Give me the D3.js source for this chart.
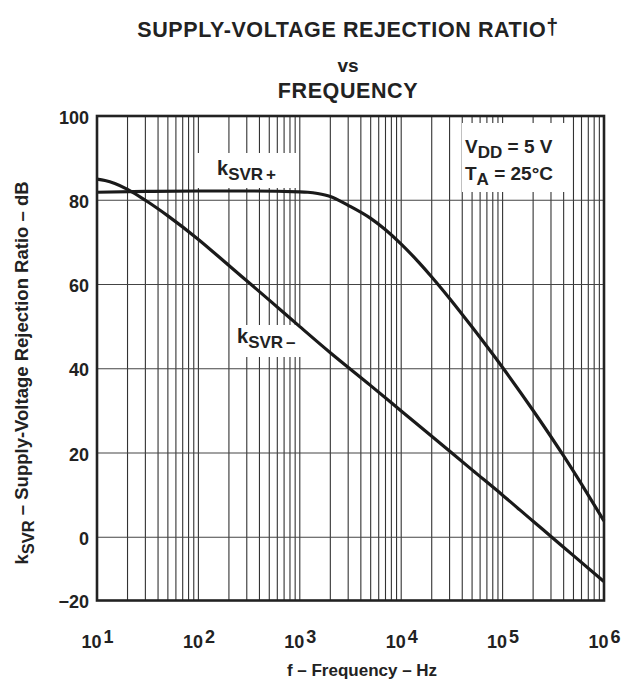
<!DOCTYPE html>
<html>
<head>
<meta charset="utf-8">
<script src="https://cdn.jsdelivr.net/npm/d3@7"></script>
<style>
  body { margin: 0; background: #fff; }
  text { font-family: "Liberation Sans", Arial, sans-serif; font-weight: bold; fill: #222; }
</style>
</head>
<body>
<div id="chart"></div>
<script>
// 軸の目盛り
const freqTicks = [1e1, 1e2, 1e3, 1e4, 1e5, 1e6];
const dbTicks = [-20, 0, 20, 40, 60, 80, 100];

// kSVR+ の曲線
const plusFreq = [10, 30, 100, 300, 1000, 1200, 1500, 2000, 3000, 5000, 7000, 1e4, 1.5e4, 2e4, 3e4, 5e4, 1e5, 2e5, 4e5, 6e5, 1e6];
const plusDb   = [81.9, 82.1, 82.2, 82.2, 82.0, 81.9, 81.6, 80.9, 78.8, 75.7, 73.0, 69.6, 65.2, 61.8, 56.7, 49.9, 40.3, 30.1, 19.3, 12.6, 3.9];

// kSVR- の曲線
const minusFreq = [10, 12, 15, 20, 30, 50, 100, 200, 500, 1000, 2000, 5000, 1e4, 2e4, 5e4, 1e5, 2e5, 3e5, 5e5, 1e6];
const minusDb   = [85, 84.7, 84.0, 82.6, 80.0, 76.3, 70.7, 64.5, 56.3, 50, 43.8, 36, 30, 24, 16, 10, 3.8, 0.2, -5.8, -14];

// グラフの大きさ
const width = 627;
const height = 683;
const margin = {top: 116, right: 23, bottom: 82.5, left: 97};
const innerWidth = width - margin.left - margin.right;
const innerHeight = height - margin.top - margin.bottom;

const svg = d3.select('#chart')
  .append('svg')
  .attr('width', width)
  .attr('height', height);

// タイトル
const title = svg.append('g').attr('text-anchor', 'middle');
title.append('text').attr('x', 348).attr('y', 37)
  .style('font-size', '21.5px').style('letter-spacing', '0.6px')
  .text('SUPPLY-VOLTAGE REJECTION RATIO')
  .append('tspan').attr('dy', -3).text('†');
title.append('text').attr('x', 348).attr('y', 72).style('font-size', '19px').text('vs');
title.append('text').attr('x', 348).attr('y', 98)
  .style('font-size', '21.5px').style('letter-spacing', '0.6px')
  .text('FREQUENCY');

const g = svg.append('g')
  .attr('transform', `translate(${margin.left},${margin.top})`);

// スケール（下端の -20 は目盛り間隔が詰まっている）
const x = d3.scaleLog().domain([1e1, 1e6]).range([0, innerWidth]);
const y = d3.scaleLinear().domain([-20, 0, 100])
  .range([innerHeight, innerHeight - 63.2, 0]);

// グリッド
g.append('g').selectAll('line')
  .data(x.ticks())
  .join('line')
  .attr('x1', d => x(d)).attr('x2', d => x(d))
  .attr('y1', 0).attr('y2', innerHeight)
  .attr('stroke', '#333').attr('stroke-width', 1.1);

g.append('g').selectAll('line')
  .data(dbTicks)
  .join('line')
  .attr('x1', 0).attr('x2', innerWidth)
  .attr('y1', d => y(d)).attr('y2', d => y(d))
  .attr('stroke', '#444').attr('stroke-width', 1.1);

// ラベル用の白い背景
const boxes = [
  {x: 100, y: 37, w: 100, h: 35},
  {x: 135, y: 209, w: 86, h: 32},
  {x: 365, y: 7, w: 105, h: 69}
];
g.append('g').selectAll('rect')
  .data(boxes)
  .join('rect')
  .attr('x', d => d.x).attr('y', d => d.y)
  .attr('width', d => d.w).attr('height', d => d.h)
  .attr('fill', '#fff');

// 曲線
const line = d3.line()
  .x(d => x(d[0]))
  .y(d => y(d[1]))
  .curve(d3.curveMonotoneX);

[d3.zip(plusFreq, plusDb), d3.zip(minusFreq, minusDb)].forEach(pts => {
  g.append('path')
    .datum(pts)
    .attr('fill', 'none')
    .attr('stroke', '#1a1a1a')
    .attr('stroke-width', 3.2)
    .attr('d', line);
});

// 枠
g.append('rect')
  .attr('width', innerWidth).attr('height', innerHeight)
  .attr('fill', 'none').attr('stroke', '#222').attr('stroke-width', 2.6);

// 縦軸
g.append('g')
  .call(d3.axisLeft(y).tickValues(dbTicks).tickSize(0).tickPadding(8))
  .call(a => a.select('.domain').remove())
  .selectAll('text')
  .attr('dy', '0.4em')
  .style('font-size', '18px')
  .style('font-family', '"Liberation Sans", Arial, sans-serif');

// 横軸（10の累乗）
const xAxis = g.append('g')
  .attr('transform', `translate(0,${innerHeight})`)
  .call(d3.axisBottom(x).tickValues(freqTicks).tickSize(0).tickPadding(35).tickFormat(''))
  .call(a => a.select('.domain').remove());
xAxis.selectAll('.tick text')
  .style('font-size', '18px')
  .style('font-family', '"Liberation Sans", Arial, sans-serif')
  .each(function(d) {
    const t = d3.select(this);
    t.append('tspan').text('10');
    t.append('tspan').attr('dx', 2).attr('dy', -5).text(Math.round(Math.log10(d)));
  });

// 曲線のラベル
function kLabel(px, py, sign) {
  const t = g.append('text').attr('x', px).attr('y', py).style('font-size', '20px');
  t.append('tspan').text('k');
  t.append('tspan').attr('dy', 5).style('font-size', '17px').text('SVR');
  t.append('tspan').attr('dx', 3).style('font-size', '17px').text(sign);
}
kLabel(120, 59, '+');
kLabel(140, 227, '–');

// 条件
const cond = g.append('g').style('font-size', '19px');
const c1 = cond.append('text').attr('x', 368).attr('y', 37);
c1.append('tspan').text('V');
c1.append('tspan').attr('dy', 5).style('font-size', '17px').text('DD');
c1.append('tspan').attr('dy', -5).text(' = 5 V');
const c2 = cond.append('text').attr('x', 368).attr('y', 64);
c2.append('tspan').text('T');
c2.append('tspan').attr('dy', 5).style('font-size', '17px').text('A');
c2.append('tspan').attr('dy', -5).text(' = 25°C');

// 軸タイトル
svg.append('text')
  .attr('x', 362).attr('y', 676)
  .attr('text-anchor', 'middle')
  .style('font-size', '17px')
  .text('f – Frequency – Hz');

const yt = svg.append('text')
  .attr('transform', 'translate(28,373) rotate(-90)')
  .attr('text-anchor', 'middle')
  .style('font-size', '18.5px');
yt.append('tspan').text('k');
yt.append('tspan').attr('dy', 6).style('font-size', '16.5px').text('SVR');
yt.append('tspan').attr('dy', -6).text(' – Supply-Voltage Rejection Ratio – dB');
</script>
</body>
</html>
